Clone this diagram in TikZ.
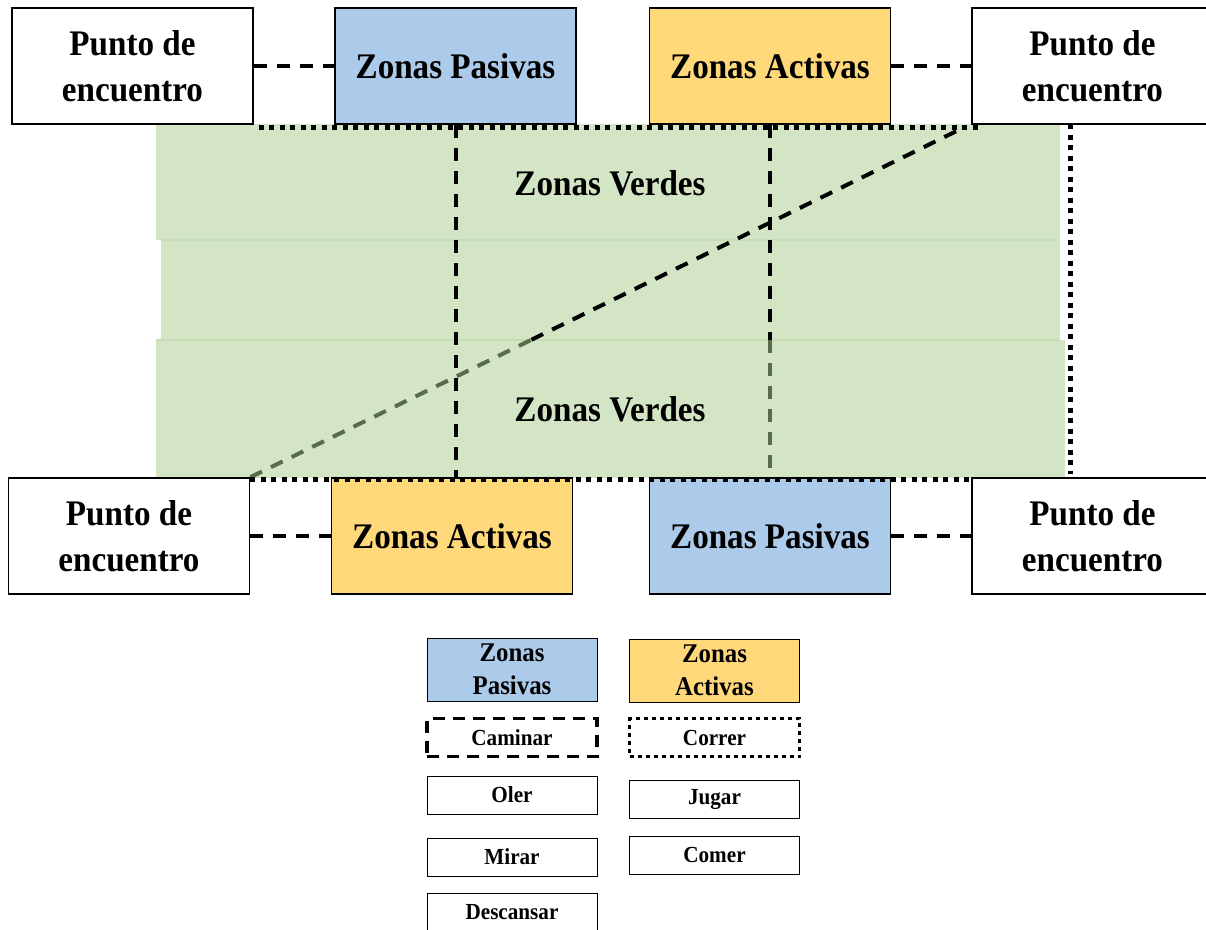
\documentclass[tikz,border=0pt]{standalone}
\usepackage{fontspec}
\setmainfont{Liberation Serif}[FakeStretch=0.92]
\usepackage{tikz}
\usetikzlibrary{calc}
\definecolor{pasivablue}{RGB}{172,202,233}
\definecolor{activayellow}{RGB}{255,216,122}
\definecolor{verdefill}{RGB}{212,229,197}
\definecolor{verdeedge}{RGB}{198,221,182}
\definecolor{verdedash}{RGB}{88,108,72}
\tikzset{
  zona/.style={draw, line width=1.5pt, minimum width=241pt, minimum height=116pt, inner sep=0pt, align=center, font=\bfseries\fontsize{36}{46}\selectfont},
  pasiva/.style={zona, fill=pasivablue},
  activa/.style={zona, fill=activayellow},
  encuentro/.style={zona, fill=white},
  verdetext/.style={font=\bfseries\fontsize{36}{45}\selectfont},
  caminar/.style={line width=4pt, dash pattern=on 13pt off 10pt},
  correr/.style={line width=5pt, dash pattern=on 5pt off 5.5pt},
  leyenda/.style={draw, line width=1pt, minimum width=170pt, minimum height=38pt, inner sep=0pt, align=center, fill=white, font=\bfseries\fontsize{23}{27}\selectfont},
  leyendazona/.style={leyenda, minimum height=63pt, font=\bfseries\fontsize{27}{33}\selectfont}
}

\begin{document}
\begin{tikzpicture}[x=1pt, y=-1pt]
  \useasboundingbox (0,0) rectangle (1206,929);

  % zonas verdes
  \fill[verdefill] (156,124) rectangle (1060,240);
  \fill[verdefill] (161,240) rectangle (1060,340);
  \fill[verdefill] (156,340) rectangle (1065,478);
  \draw[verdeedge, line width=1.5pt] (161,240) -- (1060,240);
  \draw[verdeedge, line width=1.5pt] (156,340) -- (1060,340);
  \node[verdetext] (verde1) at (610,183) {Zonas Verdes};
  \node[verdetext] (verde2) at (610,409) {Zonas Verdes};

  % zonas y puntos de encuentro
  \node[encuentro] (ptl) at (132.5,66) {Punto de\\encuentro};
  \node[pasiva] (pasT) at (455.5,66) {Zonas Pasivas};
  \node[activa] (actT) at (770,66) {Zonas Activas};
  \node[encuentro] (ptr) at (1092.5,66) {Punto de\\encuentro};
  \node[encuentro] (pbl) at (129,536) {Punto de\\encuentro};
  \node[activa] (actB) at (452,536) {Zonas Activas};
  \node[pasiva] (pasB) at (770,536) {Zonas Pasivas};
  \node[encuentro] (pbr) at (1092.5,536) {Punto de\\encuentro};

  \draw[caminar] (ptl) -- (pasT);
  \draw[caminar] (actT) -- (ptr);
  \draw[caminar] (pbl) -- (actB);
  \draw[caminar] (pasB) -- (pbr);

  % recorridos
  \draw[caminar] (pasT.south) -- (pasT.south |- actB.north);
  \path (actT.south) -- (pasB.north) coordinate[pos=0.61] (vcut);
  \draw[caminar] (actT.south) -- (vcut);
  \draw[caminar, verdedash] (vcut) -- (pasB.north);
  \path (pbl.north east) -- (ptr.south west) coordinate[pos=0.39] (dcut);
  \draw[caminar, verdedash] (pbl.north east) -- (dcut);
  \draw[caminar] (dcut) -- ([xshift=-8pt,yshift=-3pt]ptr.south west);

  \coordinate (rtop) at (1070,124);
  \coordinate (rbot) at (1070,474);
  \draw[correr] ([xshift=5pt,yshift=-3pt]ptl.south east) -- ([xshift=10pt,yshift=-3pt]ptr.south west);
  \draw[correr] (rtop) -- (rbot);
  \draw[correr] ([yshift=-2pt]pbl.north east) -- ([yshift=-2pt]pbr.north west);

  % leyenda
  \node[leyendazona, fill=pasivablue] (lpas) at (512,669.5) {Zonas\\Pasivas};
  \node[leyendazona, fill=activayellow] (lact) at (714.5,670.5) {Zonas\\Activas};
  \node[leyenda, line width=3.5pt, dash pattern=on 12pt off 8pt] (lcam) at (512,737.5) {Caminar};
  \node[leyenda, line width=3.5pt, dash pattern=on 4pt off 4pt] (lcor) at (714.5,737.5) {Correr};
  \node[leyenda] (loler) at (512,795) {Oler};
  \node[leyenda] (ljug) at (714.5,799) {Jugar};
  \node[leyenda] (lmir) at (512,857) {Mirar};
  \node[leyenda] (lcom) at (714.5,855) {Comer};
  \node[leyenda] (ldes) at (512,912) {Descansar};
\end{tikzpicture}
\end{document}
